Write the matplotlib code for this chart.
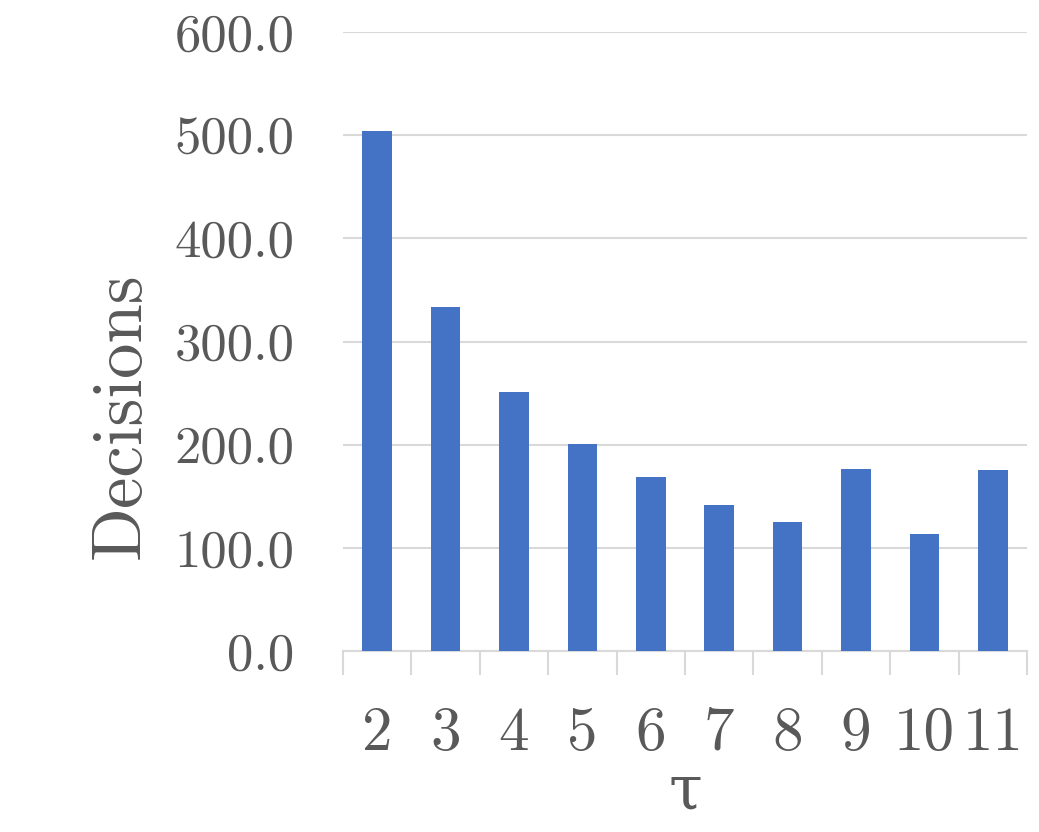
import matplotlib.pyplot as plt
import numpy as np

# values
taus = ["2", "3", "4", "5", "6", "7", "8", "9", "10", "11"]
decisions = [504, 333, 251, 201, 169, 142, 125, 176, 113, 175]
yticks = [0, 100, 200, 300, 400, 500, 600]

plt.rcParams['font.family'] = ['cmr10', 'DejaVu Serif']
plt.rcParams['axes.formatter.use_mathtext'] = True
grey = "#595959"

fig = plt.figure(figsize=(10.39, 8.32), dpi=100)
ax = fig.add_axes([343 / 1039, 1 - 651 / 832, 684 / 1039, 619 / 832])

x = np.arange(len(taus))
ax.bar(x, decisions, width=0.43, color="#4472C4", zorder=3)

ax.set_xlim(-0.5, len(taus) - 0.5)
ax.set_ylim(0, 600)
ax.set_yticks(yticks)
ax.set_yticklabels([f"{v:.1f}" for v in yticks], fontsize=38, color=grey)
ax.yaxis.grid(True, color="#d9d9d9", linewidth=1.5, zorder=0)
ax.tick_params(axis="y", length=0, pad=35)

ax.set_xticks(x)
ax.set_xticklabels(taus, fontsize=44, color=grey)
ax.set_xticks(np.arange(len(taus) + 1) - 0.5, minor=True)
ax.tick_params(axis="x", which="major", length=0, pad=40)
ax.tick_params(axis="x", which="minor", length=17, width=1.5, color="#d9d9d9")

for s in ["top", "right", "left"]:
    ax.spines[s].set_visible(False)
ax.spines["bottom"].set_color("#d9d9d9")
ax.spines["bottom"].set_linewidth(1.5)

ax.set_ylabel("Decisions", fontsize=51, color=grey, labelpad=15)
ax.yaxis.label.set_y(0.38)
ax.set_xlabel("τ", fontsize=44, color=grey, labelpad=3)

fig.savefig("out.png", dpi=100)
